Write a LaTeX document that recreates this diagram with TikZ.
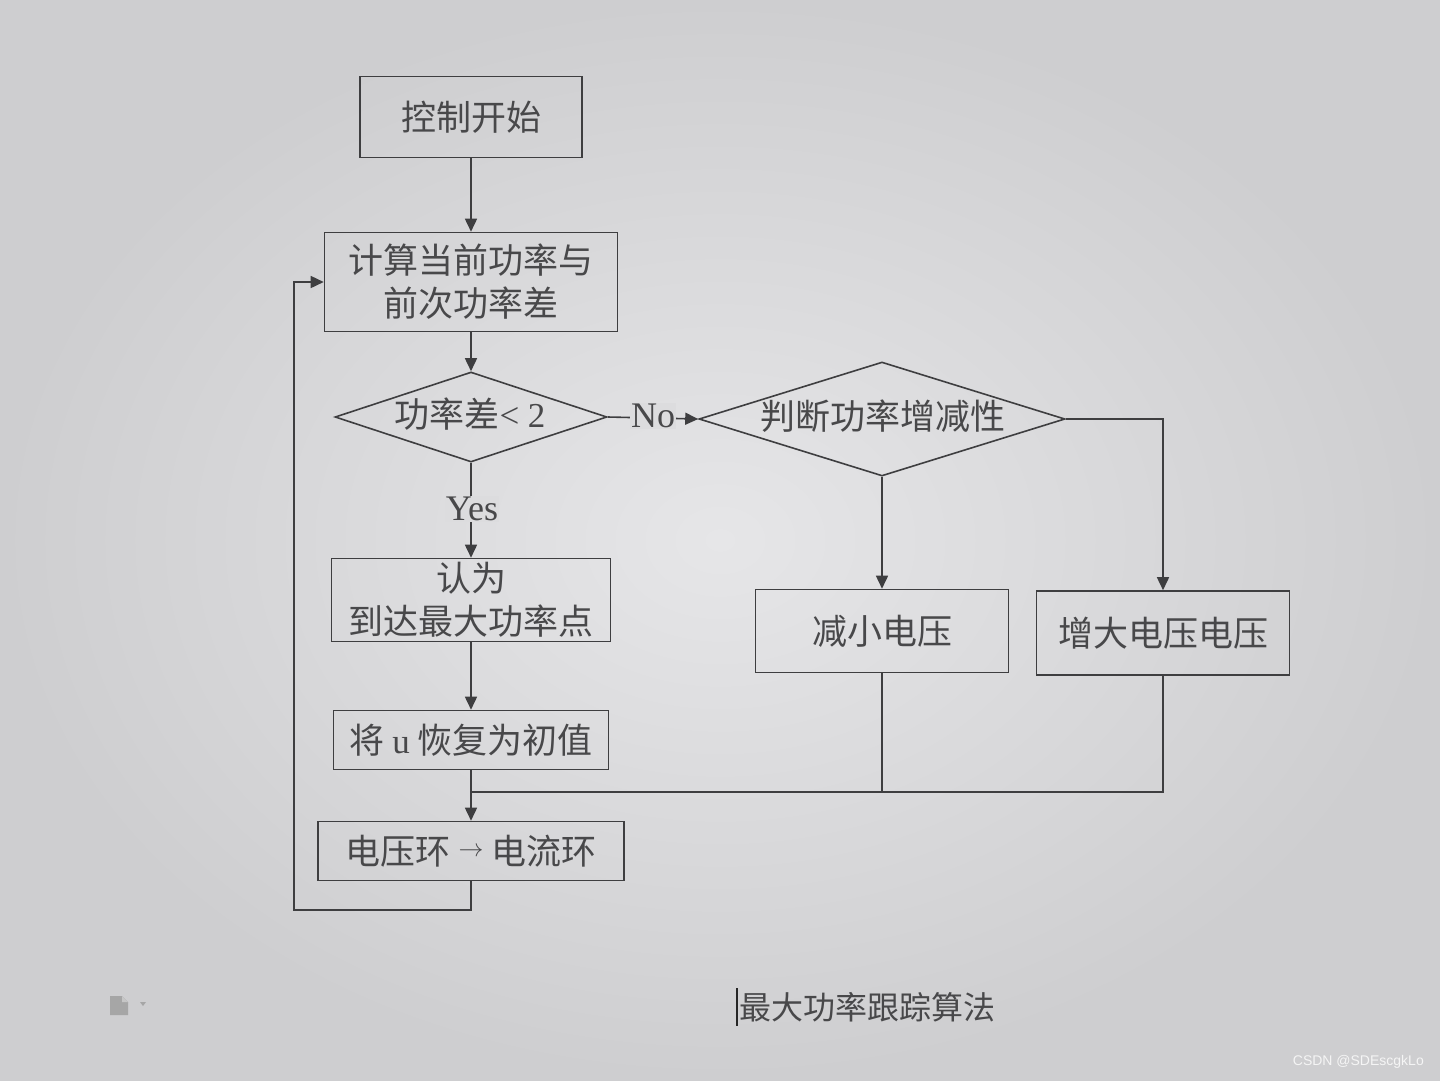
\documentclass[tikz,border=0pt]{standalone}
\usepackage{fontspec}
\setmainfont{Liberation Serif}
\newfontfamily\cjk{Noto Sans CJK SC}
\newfontfamily\capfont{Liberation Sans}
\usetikzlibrary{arrows.meta,shapes.geometric}
\definecolor{bgin}{RGB}{230,230,232}
\definecolor{bgout}{RGB}{206,206,208}
\definecolor{bg}{RGB}{220,220,222}
\definecolor{ink}{RGB}{62,62,64}
\definecolor{txt}{RGB}{72,72,74}
\begin{document}
\begin{tikzpicture}[x=1pt,y=-1pt,
  box/.style={draw=ink, line width=1.6pt, inner sep=0pt, text=txt, align=center,
    font=\cjk\fontsize{35}{43}\selectfont},
  dia/.style={diamond, draw=ink, line width=1.6pt, inner sep=0pt},
  lbl/.style={text=txt, inner sep=1pt, font=\cjk\fontsize{35}{43}\selectfont},
  conn/.style={draw=ink, line width=1.6pt},
  arr/.style={conn, -{Triangle[length=13pt,width=12pt]}},
  yn/.style={fill=bg, text=txt, inner sep=1pt, font=\fontsize{36}{38}\selectfont}]
\useasboundingbox (0,0) rectangle (1440,1080);
\shade[inner color=bgin, outer color=bgout] (0,0) rectangle (1440,1080);

% boxes
\node[box, minimum width=222pt, minimum height=81pt] (b1) at (471,117) {控制开始};
\node[box, minimum width=293pt, minimum height=99pt] (b2) at (471,282) {计算当前功率与\\前次功率差};
\node[dia, minimum width=272pt, minimum height=90pt] (d1) at (471,417) {};
\node[lbl] (d1t) at (470,414) {功率差{\rmfamily< 2}};
\node[dia, minimum width=366pt, minimum height=114pt] (d2) at (882,419) {};
\node[lbl] (d2t) at (883,416) {判断功率增减性};
\node[box, minimum width=279pt, minimum height=83pt] (b3) at (471,600) {认为\\到达最大功率点};
\node[box, minimum width=275pt, minimum height=59pt] (b4) at (471,740) {将 {\rmfamily u} 恢复为初值};
\node[box, minimum width=253pt, minimum height=83pt] (b5) at (882,631) {减小电压};
\node[box, minimum width=253pt, minimum height=84pt] (b6) at (1163,633) {增大电压电压};
\node[box, minimum width=306pt, minimum height=59pt] (b7) at (471,851) {电压环 {\rmfamily\fontsize{36}{36}\selectfont\raisebox{8pt}{$\rightarrow$}} 电流环};

\coordinate (m) at (471,792);
\coordinate (lp) at (294,910);

% connectors
\draw[arr] (b1.south) -- (b2.north);
\draw[arr] (b2.south) -- (d1.north);
\draw[arr] (d1.south) -- (b3.north);
\node[yn] (yes) at (472,509) {Yes};
\draw[arr] (b3.south) -- (b4.north);
\draw[arr] (b4.south) -- (b7.north);
\draw[arr] (d1.east) -- (d2.west);
\node[yn] (no) at (653,416) {No};
\draw[arr] (d2.east) -| (b6.north);
\draw[arr] (d2.south) -- (b5.north);
\draw[conn] (b5.south) |- (m);
\draw[conn] (b6.south) |- (m);
\draw[arr] (b7.south) |- (lp) |- (b2.west);

% caption
\node[text=txt, inner sep=0pt, anchor=west, font=\cjk\fontsize{32}{36}\selectfont] (cap) at (739,1007) {最大功率跟踪算法};
\coordinate (cur1) at (737,988);
\coordinate (cur2) at (737,1026);
\draw[black!85, line width=1.5pt] (cur1) -- (cur2);

% doc icon
\fill[gray!70] (110,996) -- (122,996) -- (128,1002) -- (128,1015) -- (110,1015) -- cycle;
\fill[gray!45] (122,996) -- (128,1002) -- (122,1002) -- cycle;
\fill[gray!70] (140,1002) -- (146,1002) -- (143,1006) -- cycle;

% watermark
\node[text=white!92!gray, inner sep=0pt, anchor=east, font=\capfont\fontsize{14}{16}\selectfont] (wm) at (1424,1062) {CSDN @SDEscgkLo};
\end{tikzpicture}
\end{document}
